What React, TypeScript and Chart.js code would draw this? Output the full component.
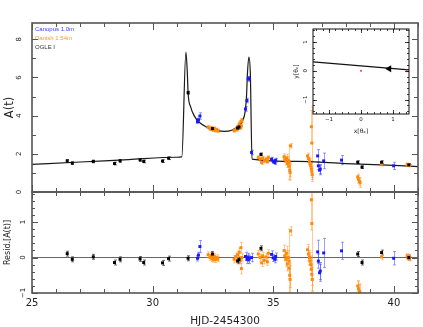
import React, { useEffect, useRef } from 'react';
import { Chart, registerables } from 'chart.js';
Chart.register(...registerables);

const W = 423;
const H = 327;
const FONT = "'DejaVu Sans', sans-serif";

// ---------- axis ranges & tick labels ----------
const xMin = 25;
const xMax = 41;
const xTickLabels = [25, 30, 35, 40];
const ampMin = 0;
const ampMax = 8.85;
const ampTickLabels = [0, 2, 4, 6, 8];
const resMin = -1;
const resMax = 1.85;
const resTickLabels = [-1, 0, 1];
const insetXMin = -1.5;
const insetXMax = 1.5;
const insetYMin = -1.5;
const insetYMax = 1.45;
const insetTickLabels = [-1, 0, 1];

// ---------- series ----------
const seriesNames = ['Canopus 1.0m', 'Danish 1.54m', 'OGLE I'];

const modelT = [25.0, 27.0, 29.0, 31.0, 31.21, 31.38, 31.44, 31.47, 31.58, 31.72, 31.93, 32.27, 32.69, 32.97, 33.31, 33.59, 33.73, 33.83, 33.89, 33.93, 33.99, 34.05, 34.12, 36.0, 38.0, 40.0, 41.0];
const modelA = [1.45, 1.57, 1.70, 1.82, 1.84, 7.33, 6.2, 5.2, 4.44, 4.0, 3.65, 3.38, 3.21, 3.17, 3.25, 3.47, 3.74, 4.17, 4.96, 6.2, 7.07, 6.2, 1.72, 1.60, 1.49, 1.39, 1.33];

const ogleT = [26.46, 26.67, 27.54, 28.42, 28.65, 29.48, 29.63, 30.41, 30.66, 31.47, 32.48, 33.52, 33.58, 34.49, 38.50, 38.68, 39.49, 40.62];
const ogleA = [1.63, 1.51, 1.60, 1.49, 1.63, 1.68, 1.60, 1.62, 1.77, 5.20, 3.32, 3.35, 3.40, 1.97, 1.56, 1.30, 1.56, 1.42];
const ogleErr = [0.07, 0.07, 0.07, 0.07, 0.07, 0.07, 0.07, 0.07, 0.07, 0.07, 0.07, 0.07, 0.07, 0.07, 0.07, 0.07, 0.07, 0.07];
const ogleRes = [0.11, -0.05, 0.02, -0.14, -0.05, -0.04, -0.14, -0.15, -0.03, -0.02, 0.10, -0.10, -0.06, 0.26, 0.10, -0.14, 0.14, 0.0];

const canT = [31.86, 31.90, 31.96, 33.85, 33.91, 33.96, 34.00, 34.10, 34.93, 35.00, 35.07, 35.10, 36.84, 36.87, 36.92, 36.95, 37.09, 37.83, 39.99];
const canA = [3.68, 3.78, 3.98, 4.35, 4.79, 5.93, 5.93, 2.07, 1.72, 1.60, 1.54, 1.67, 1.89, 1.37, 1.14, 1.20, 1.63, 1.67, 1.37];
const canErr = [0.08, 0.08, 0.17, 0.12, 0.12, 0.12, 0.12, 0.12, 0.10, 0.10, 0.10, 0.10, 0.33, 0.20, 0.24, 0.24, 0.41, 0.24, 0.19];
const canRes = [-0.02, 0.07, 0.31, 0.03, -0.05, 0.0, -0.05, 0.0, 0.09, -0.01, -0.05, 0.03, 0.16, -0.10, -0.43, -0.38, 0.13, 0.19, -0.02];

const danT = [32.30, 32.38, 32.42, 32.47, 32.52, 32.56, 32.60, 32.65, 32.70,
  33.38, 33.45, 33.50, 33.52, 33.59, 33.63, 33.66, 33.68, 33.70,
  34.38, 34.46, 34.52, 34.56, 34.63, 34.70, 34.76, 34.80,
  35.45, 35.48, 35.52, 35.55, 35.58, 35.62, 35.66, 35.65, 35.68, 35.70, 35.72,
  36.42, 36.46, 36.50, 36.52, 36.55, 36.58, 36.60, 36.62, 36.60, 36.58,
  38.50, 38.53, 38.57, 38.60,
  39.49,
  40.55, 40.58, 40.62, 40.65];
const danA = [3.40, 3.30, 3.36, 3.28, 3.25, 3.33, 3.22, 3.27, 3.20,
  3.22, 3.30, 3.28, 3.42, 3.56, 3.38, 3.70, 3.45, 3.74,
  1.80, 1.72, 1.54, 1.77, 1.63, 1.72, 1.60, 1.80,
  1.85, 1.70, 1.62, 1.78, 1.48, 1.66, 1.55, 1.35, 1.15, 1.02, 2.42,
  1.89, 1.75, 1.63, 1.50, 1.37, 1.20, 1.05, 0.90, 2.56, 3.42,
  0.79, 0.67, 0.55, 0.49,
  1.45,
  1.45, 1.40, 1.43, 1.38];
const danErr = [0.08, 0.08, 0.08, 0.08, 0.08, 0.08, 0.08, 0.08, 0.08,
  0.10, 0.10, 0.10, 0.10, 0.12, 0.10, 0.15, 0.15, 0.10,
  0.10, 0.10, 0.10, 0.10, 0.10, 0.10, 0.10, 0.10,
  0.15, 0.15, 0.20, 0.20, 0.20, 0.20, 0.90, 0.30, 0.35, 0.40, 0.12,
  0.15, 0.20, 0.20, 0.25, 0.25, 0.30, 0.30, 0.35, 1.90, 0.85,
  0.15, 0.20, 0.20, 0.25,
  0.08,
  0.06, 0.06, 0.06, 0.06];
const danRes = [0.08, 0.00, 0.06, -0.03, -0.05, 0.04, -0.06, 0.00, -0.04,
  -0.05, 0.03, -0.08, 0.08, 0.15, -0.08, 0.28, -0.31, 0.0,
  0.10, 0.00, -0.15, 0.05, -0.08, 0.02, -0.12, 0.12,
  0.20, 0.05, -0.05, 0.12, -0.18, 0.0, -0.10, -0.30, -0.50, -0.62, 0.75,
  0.22, 0.10, 0.0, -0.10, -0.20, -0.33, -0.48, -0.62, 0.96, 1.63,
  -0.80, -0.88, -0.95, -1.0,
  0.02,
  0.05, -0.02, 0.03, -0.03];

// inset (source trajectory in Einstein units)
const trajX = [-1.5, 1.5];
const trajY = [0.31, 0.03];
const arrowX = [0.88];
const arrowY = [0.07];
const lensX = [0];
const lensY = [0];
const causticX = [1.43, 1.43];
const causticY = [-0.05, 0.05];

// ---------- helpers ----------
const pts = (xs: number[], ys: number[]) => xs.map((x, i) => ({ x, y: ys[i] }));
const fmt = (v: number) => (v < 0 ? '\u2212' + Math.abs(v) : String(v));

const BLUE = '#1818ff';
const BLUE_ERR = 'rgba(60,60,255,0.5)';
const ORANGE = '#ff8a0a';
const ORANGE_ERR = 'rgba(255,150,40,0.5)';
const BLACK = '#000000';
const BLACK_ERR = 'rgba(40,40,40,0.65)';

function scatterSet(label: string, t: number[], v: number[], e: number[], color: string, errColor: string) {
  return {
    label,
    data: pts(t, v),
    errs: e,
    errColor,
    legendColor: color,
    showLine: false,
    pointStyle: 'rect',
    pointRadius: 2.1,
    pointBorderWidth: 0,
    pointBackgroundColor: color,
    backgroundColor: color,
    borderColor: color,
  };
}

const errorBarPlugin = {
  id: 'errbars',
  beforeDatasetsDraw(chart: any) {
    const { ctx, chartArea: a } = chart;
    ctx.save();
    ctx.beginPath();
    ctx.rect(a.left, a.top, a.width, a.height);
    ctx.clip();
    chart.data.datasets.forEach((ds: any, i: number) => {
      if (!ds.errs) return;
      const meta = chart.getDatasetMeta(i);
      const ys = chart.scales[meta.yAxisID];
      ctx.strokeStyle = ds.errColor;
      ctx.lineWidth = 1;
      ds.data.forEach((p: any, j: number) => {
        const el = meta.data[j];
        if (!el) return;
        const x = Math.round(el.x) + 0.5;
        const y1 = ys.getPixelForValue(p.y + ds.errs[j]);
        const y2 = ys.getPixelForValue(p.y - ds.errs[j]);
        ctx.beginPath();
        ctx.moveTo(x, y1);
        ctx.lineTo(x, y2);
        ctx.moveTo(x - 1.5, y1);
        ctx.lineTo(x + 1.5, y1);
        ctx.moveTo(x - 1.5, y2);
        ctx.lineTo(x + 1.5, y2);
        ctx.stroke();
      });
    });
    ctx.restore();
  },
};

// keeps the legend box inside the plot area (top-left corner)
const legendInAreaPlugin = {
  id: 'legendInArea',
  afterLayout(chart: any) {
    const lg = chart.legend;
    if (!lg) return;
    const a = chart.chartArea;
    lg.left = a.left;
    lg.right = a.right;
    lg.top = a.top;
    lg.bottom = a.bottom;
  },
};

function framePlugin(cfg: any) {
  return {
    id: 'frame_' + cfg.name,
    beforeDraw(chart: any) {
      if (!cfg.fill) return;
      const { ctx, chartArea: a } = chart;
      ctx.save();
      ctx.fillStyle = cfg.fill;
      ctx.fillRect(a.left, a.top, a.width, a.height);
      ctx.restore();
    },
    afterDraw(chart: any) {
      const { ctx, chartArea: a, scales } = chart;
      const xs = scales.x;
      const ys = scales.y;
      ctx.save();
      ctx.strokeStyle = cfg.color;
      ctx.lineWidth = cfg.tickWidth;
      ctx.beginPath();
      const marks = (scale: any, step: number, len: number, horiz: boolean) => {
        const k0 = Math.ceil(scale.min / step - 1e-6);
        const k1 = Math.floor(scale.max / step + 1e-6);
        for (let k = k0; k <= k1; k++) {
          const p = Math.round(scale.getPixelForValue(k * step)) + 0.5;
          if (horiz) {
            ctx.moveTo(p, a.top); ctx.lineTo(p, a.top + len);
            ctx.moveTo(p, a.bottom); ctx.lineTo(p, a.bottom - len);
          } else {
            ctx.moveTo(a.left, p); ctx.lineTo(a.left + len, p);
            ctx.moveTo(a.right, p); ctx.lineTo(a.right - len, p);
          }
        }
      };
      marks(xs, cfg.xMinor, cfg.xMinorLen, true);
      marks(xs, cfg.xMajor, cfg.xMajorLen, true);
      marks(ys, cfg.yMinor, cfg.yMinorLen, false);
      marks(ys, cfg.yMajor, cfg.yMajorLen, false);
      ctx.stroke();
      ctx.lineWidth = cfg.frameWidth;
      ctx.strokeRect(a.left, a.top, a.right - a.left, a.bottom - a.top);
      ctx.restore();
    },
  };
}

const tickFont = { family: FONT, size: 7 };

function upperConfig(): any {
  const datasets: any[] = [
    scatterSet(seriesNames[2], ogleT, ogleA, ogleErr, BLACK, BLACK_ERR),
    scatterSet(seriesNames[0], canT, canA, canErr, BLUE, BLUE_ERR),
    scatterSet(seriesNames[1], danT, danA, danErr, ORANGE, ORANGE_ERR),
    {
      label: 'model',
      data: pts(modelT, modelA),
      showLine: true,
      pointRadius: 0,
      borderColor: '#1a1a1a',
      borderWidth: 1.2,
      cubicInterpolationMode: 'monotone',
    },
  ];
  const legendColors = ['#3a3aff', '#ff9a30', '#333333'];
  return {
    type: 'scatter',
    data: { datasets },
    options: {
      responsive: false,
      animation: false,
      devicePixelRatio: 1,
      events: [],
      layout: { padding: { left: 0, right: 5, top: 23, bottom: 135 } },
      plugins: {
        tooltip: { enabled: false },
        legend: {
          display: true,
          position: 'chartArea',
          align: 'start',
          labels: {
            boxWidth: -3,
            padding: 3,
            font: { family: "'Liberation Sans', sans-serif", size: 6 },
            generateLabels: () =>
              seriesNames.map((name, i) => ({
                text: name,
                fontColor: legendColors[i],
                fillStyle: 'rgba(0,0,0,0)',
                strokeStyle: 'rgba(0,0,0,0)',
                lineWidth: 0,
                hidden: false,
                datasetIndex: i,
              })),
          },
        },
      },
      scales: {
        x: { type: 'linear', min: xMin, max: xMax, display: false },
        y: {
          type: 'linear',
          min: ampMin,
          max: ampMax,
          afterFit: (s: any) => { s.width = 32; },
          afterBuildTicks: (s: any) => { s.ticks = ampTickLabels.map((value) => ({ value })); },
          grid: { display: false, drawTicks: false },
          border: { display: false },
          ticks: {
            minRotation: 90, maxRotation: 90, crossAlign: 'center', padding: 10.5,
            font: tickFont, color: '#222', callback: (v: number) => fmt(v),
          },
          title: {
            display: true, text: 'A(t)', color: '#222',
            font: { family: FONT, size: 11.5 }, padding: { top: 3, bottom: 0 },
          },
        },
      },
    },
    plugins: [
      errorBarPlugin,
      legendInAreaPlugin,
      framePlugin({
        name: 'upper', color: '#555', tickWidth: 1, frameWidth: 1.6,
        xMinor: 1, xMinorLen: 4, xMajor: 5, xMajorLen: 7,
        yMinor: 1, yMinorLen: 4, yMajor: 2, yMajorLen: 6,
      }),
    ],
  };
}

function lowerConfig(): any {
  const datasets: any[] = [
    scatterSet(seriesNames[2], ogleT, ogleRes, ogleErr, BLACK, BLACK_ERR),
    scatterSet(seriesNames[0], canT, canRes, canErr, BLUE, BLUE_ERR),
    scatterSet(seriesNames[1], danT, danRes, danErr, ORANGE, ORANGE_ERR),
  ];
  return {
    type: 'scatter',
    data: { datasets },
    options: {
      responsive: false,
      animation: false,
      devicePixelRatio: 1,
      events: [],
      layout: { padding: { left: 0, right: 5, top: 192, bottom: 0 } },
      plugins: { tooltip: { enabled: false }, legend: { display: false } },
      scales: {
        x: {
          type: 'linear', min: xMin, max: xMax,
          afterFit: (s: any) => { s.height = 34; },
          afterBuildTicks: (s: any) => { s.ticks = xTickLabels.map((value) => ({ value })); },
          grid: { display: false, drawTicks: false },
          border: { display: false },
          ticks: { padding: 4, maxRotation: 0, autoSkip: false, font: { family: FONT, size: 10 }, color: '#222' },
          title: {
            display: true, text: 'HJD-2454300', color: '#222',
            font: { family: FONT, size: 10.5 }, padding: { top: 0, bottom: -1 },
          },
        },
        y: {
          type: 'linear', min: resMin, max: resMax,
          afterFit: (s: any) => { s.width = 32; },
          afterBuildTicks: (s: any) => { s.ticks = resTickLabels.map((value) => ({ value })); },
          grid: {
            display: true, drawTicks: false, lineWidth: 1,
            color: (c: any) => (c.tick && c.tick.value === 0 ? '#666' : 'rgba(0,0,0,0)'),
          },
          border: { display: false },
          ticks: {
            minRotation: 90, maxRotation: 90, crossAlign: 'center', padding: 3.5,
            font: tickFont, color: '#222', callback: (v: number) => fmt(v),
          },
          title: {
            display: true, text: 'Resid.[A(t)]', color: '#222',
            font: { family: FONT, size: 8 }, padding: { top: 2.7, bottom: 0 },
          },
        },
      },
    },
    plugins: [
      errorBarPlugin,
      framePlugin({
        name: 'lower', color: '#555', tickWidth: 1, frameWidth: 1.6,
        xMinor: 1, xMinorLen: 4, xMajor: 5, xMajorLen: 7,
        yMinor: 0.2, yMinorLen: 3, yMajor: 1, yMajorLen: 6,
      }),
    ],
  };
}

function insetConfig(): any {
  const insetFont = { family: FONT, size: 5.5 };
  return {
    type: 'scatter',
    data: {
      datasets: [
        {
          label: 'arrow', data: pts(arrowX, arrowY), pointStyle: 'triangle', rotation: 270,
          pointRadius: 4, backgroundColor: '#000', borderColor: '#000', pointBorderWidth: 0,
        },
        { label: 'lens', data: pts(lensX, lensY), pointRadius: 0.9, backgroundColor: '#ff0000', pointBorderWidth: 0 },
        { label: 'caustic', data: pts(causticX, causticY), showLine: true, borderColor: '#ff2020', borderWidth: 1, pointRadius: 0 },
        { label: 'trajectory', data: pts(trajX, trajY), showLine: true, borderColor: '#111', borderWidth: 1.2, pointRadius: 0 },
      ],
    },
    options: {
      responsive: false,
      animation: false,
      devicePixelRatio: 1,
      events: [],
      layout: { padding: { left: 290, right: 14, top: 29, bottom: 189 } },
      plugins: { tooltip: { enabled: false }, legend: { display: false } },
      scales: {
        x: {
          type: 'linear', min: insetXMin, max: insetXMax,
          afterFit: (s: any) => { s.height = 24; },
          afterBuildTicks: (s: any) => { s.ticks = insetTickLabels.map((value) => ({ value })); },
          grid: { display: false, drawTicks: false },
          border: { display: false },
          ticks: { padding: 2.7, maxRotation: 0, autoSkip: false, font: insetFont, color: '#222', callback: (v: number) => fmt(v) },
          title: { display: true, text: 'x[\u03b8\u2091]', color: '#222', font: { family: FONT, size: 6 }, padding: { top: 0, bottom: 2.7 } },
        },
        y: {
          type: 'linear', min: insetYMin, max: insetYMax,
          afterFit: (s: any) => { s.width = 23; },
          afterBuildTicks: (s: any) => { s.ticks = insetTickLabels.map((value) => ({ value })); },
          grid: { display: false, drawTicks: false },
          border: { display: false },
          ticks: {
            minRotation: 90, maxRotation: 90, crossAlign: 'center', padding: 3,
            font: insetFont, color: '#222', callback: (v: number) => fmt(v),
          },
          title: { display: true, text: 'y[\u03b8\u2091]', color: '#222', font: { family: FONT, size: 6 }, padding: { top: 3.1, bottom: 0 } },
        },
      },
    },
    plugins: [
      framePlugin({
        name: 'inset', color: '#111', tickWidth: 0.8, frameWidth: 1, fill: '#ffffff',
        xMinor: 0.2, xMinorLen: 2, xMajor: 1, xMajorLen: 4,
        yMinor: 0.2, yMinorLen: 2, yMajor: 1, yMajorLen: 4,
      }),
    ],
  };
}

export default function App() {
  const upperRef = useRef<HTMLCanvasElement | null>(null);
  const lowerRef = useRef<HTMLCanvasElement | null>(null);
  const insetRef = useRef<HTMLCanvasElement | null>(null);

  useEffect(() => {
    Chart.defaults.font.family = FONT;
    Chart.defaults.color = '#222';
    const charts = [
      new Chart(upperRef.current as HTMLCanvasElement, upperConfig()),
      new Chart(lowerRef.current as HTMLCanvasElement, lowerConfig()),
      new Chart(insetRef.current as HTMLCanvasElement, insetConfig()),
    ];
    return () => charts.forEach((c) => c.destroy());
  }, []);

  const cs: React.CSSProperties = { position: 'absolute', left: 0, top: 0, width: W, height: H };
  return (
    <div style={{ position: 'fixed', left: 0, top: 0, width: W, height: H, background: '#ffffff', overflow: 'hidden' }}>
      <canvas ref={upperRef} width={W} height={H} style={cs} />
      <canvas ref={lowerRef} width={W} height={H} style={cs} />
      <canvas ref={insetRef} width={W} height={H} style={cs} />
    </div>
  );
}
